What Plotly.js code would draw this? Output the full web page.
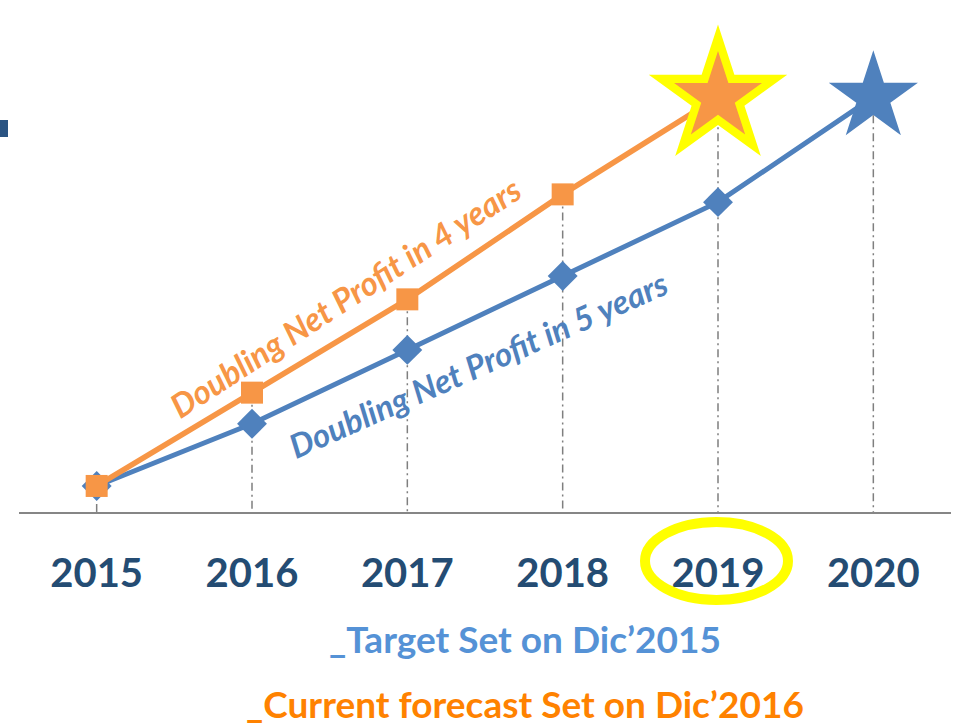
<!DOCTYPE html>
<html>
<head>
<meta charset="utf-8">
<script src="https://cdn.plot.ly/plotly-3.0.1.min.js"></script>
<style>
  html, body { margin: 0; padding: 0; background: #ffffff; }
  #chart { width: 953px; height: 725px; }
</style>
</head>
<body>
<div id="chart"></div>
<script>
// ---- data (index, 2015 = 100) ----
const years = ['2015', '2016', '2017', '2018', '2019', '2020'];
const target5yr = [100, 116, 135, 154, 173, 200];     // Doubling Net Profit in 5 years (target Dic'2015)
const forecast4yr = [100, 124, 148, 175, 200];        // Doubling Net Profit in 4 years (forecast Dic'2016)
const labelTarget = '_Target Set on Dic\u20192015';
const labelForecast = '_Current forecast Set on Dic\u20192016';
const label4 = 'Doubling Net Profit in 4 years';
const label5 = 'Doubling Net Profit in 5 years';

const yMin = 93.3, yMax = 225;

const BLUE = '#4F81BD', ORANGE = '#F79646', NAVY = '#244C73';

// vertical drop lines from the highest point of each year to the axis
const dropX = [], dropY = [];
years.forEach((yr, i) => {
  const vals = [target5yr[i], forecast4yr[i]].filter(v => v !== undefined);
  dropX.push(yr, yr, null);
  dropY.push(Math.max(...vals), yMin, null);
});

const traces = [
  {
    x: dropX, y: dropY, type: 'scatter', mode: 'lines',
    line: { color: '#7F7F7F', width: 1.5, dash: '8px,4px,2px,4px' },
    hoverinfo: 'skip', cliponaxis: false
  },
  {
    x: years, y: target5yr, type: 'scatter', mode: 'lines+markers',
    line: { color: BLUE, width: 5 },
    marker: {
      color: BLUE, opacity: 1,
      symbol: years.map((_, i) => i === years.length - 1 ? 'star' : 'diamond'),
      size: years.map((_, i) => i === years.length - 1 ? 67 : 23),
      line: { width: 0 }
    },
    cliponaxis: false
  },
  {
    x: years.slice(0, forecast4yr.length), y: forecast4yr, type: 'scatter', mode: 'lines+markers',
    line: { color: ORANGE, width: 5.5 },
    marker: {
      color: ORANGE, symbol: 'square', opacity: 1,
      size: forecast4yr.map((_, i) => i === forecast4yr.length - 1 ? 0 : 22),
      line: { width: 0 }
    },
    cliponaxis: false
  },
  {
    x: [years[forecast4yr.length - 1]], y: [forecast4yr[forecast4yr.length - 1]],
    type: 'scatter', mode: 'markers',
    marker: { color: '#FFFF00', symbol: 'star', size: 104, opacity: 1, line: { width: 0 } },
    cliponaxis: false
  },
  {
    x: [years[forecast4yr.length - 1]], y: [forecast4yr[forecast4yr.length - 1]],
    type: 'scatter', mode: 'markers',
    marker: { color: ORANGE, symbol: 'star', size: 66, opacity: 1, line: { width: 0 } },
    cliponaxis: false
  }
];

const W = 953, H = 725, ML = 19, MR = 2, MT = 0, MB = 213;
const PW = W - ML - MR, PH = H - MT - MB;
const px = x => (x - ML) / PW;
const py = y => (H - MB - y) / PH;
const FONT = 'Lato, "Open Sans", sans-serif';

const layout = {
  width: W, height: H,
  margin: { l: ML, r: MR, t: MT, b: MB, pad: 0 },
  paper_bgcolor: '#ffffff', plot_bgcolor: '#ffffff',
  showlegend: false,
  font: { family: FONT },
  xaxis: {
    type: 'category', range: [-0.5, 5.5],
    showgrid: false, zeroline: false,
    showline: true, linecolor: '#868686', linewidth: 2,
    ticks: '', ticklabelstandoff: 25,
    tickfont: { family: FONT, size: 40, color: NAVY, weight: 'bold' },
    fixedrange: true
  },
  yaxis: {
    range: [yMin, yMax], visible: false, showgrid: false, zeroline: false, fixedrange: true
  },
  shapes: [
    {
      type: 'circle', xref: 'paper', yref: 'paper',
      x0: px(716.5 - 71.5), x1: px(716.5 + 71.5),
      y0: py(561 + 39), y1: py(561 - 39),
      line: { color: '#FFFF00', width: 10 }
    },
    {
      type: 'rect', xref: 'paper', yref: 'paper',
      x0: px(-2), x1: px(8), y0: py(137), y1: py(120),
      fillcolor: '#2A5482', line: { width: 0 }
    }
  ],
  annotations: [
    {
      text: label4, xref: 'paper', yref: 'paper', x: px(345), y: py(297),
      xanchor: 'center', yanchor: 'middle', showarrow: false, textangle: -33,
      font: { family: FONT, size: 33, color: ORANGE, weight: 'bold', style: 'italic' }
    },
    {
      text: label5, xref: 'paper', yref: 'paper', x: px(478), y: py(364),
      xanchor: 'center', yanchor: 'middle', showarrow: false, textangle: -24,
      font: { family: FONT, size: 33, color: BLUE, weight: 'bold', style: 'italic' }
    },
    {
      text: labelTarget, xref: 'paper', yref: 'paper', x: px(524.5), y: py(638),
      xanchor: 'center', yanchor: 'middle', showarrow: false,
      font: { family: FONT, size: 37, color: '#5592D6', weight: 'bold' }
    },
    {
      text: labelForecast, xref: 'paper', yref: 'paper', x: px(525), y: py(703),
      xanchor: 'center', yanchor: 'middle', showarrow: false,
      font: { family: FONT, size: 37, color: '#FF8200', weight: 'bold' }
    }
  ]
};

Plotly.newPlot('chart', traces, layout, { displayModeBar: false, staticPlot: true });
</script>
</body>
</html>
